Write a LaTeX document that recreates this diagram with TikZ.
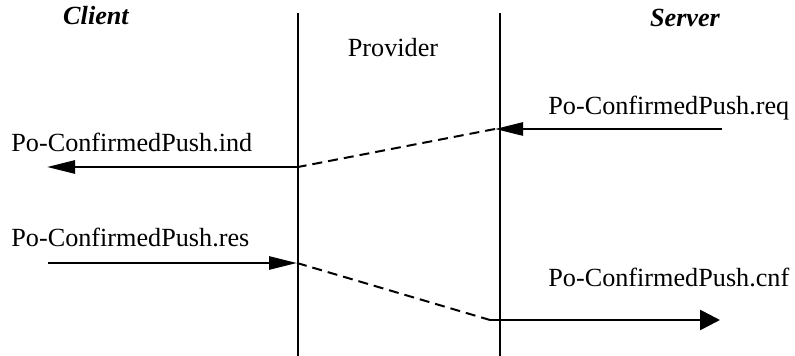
\documentclass[tikz,border=0pt]{standalone}
\usepackage{fontspec}
\setmainfont{Liberation Serif}
\usetikzlibrary{arrows.meta}

\begin{document}
\begin{tikzpicture}[
    x=0.5pt, y=-0.5pt,
    every node/.style={inner sep=0pt, anchor=base west, font=\fontsize{13.1}{15}\selectfont},
    party/.style={anchor=base, font=\fontsize{13.1}{15}\selectfont\bfseries\itshape},
    lifeline/.style={line width=1pt},
    arrow/.style={-{Triangle[length=14pt,width=6.5pt]}, line width=1.3pt},
    relay/.style={dash pattern=on 5pt off 3pt, line width=1pt}
]
\useasboundingbox (0,0) rectangle (795,356);

\node[party] (client) at (96,25) {Client};
\node[party] (server) at (685,27) {Server};
\node[anchor=base] (provider) at (393,57) {Provider};

\coordinate (ctop) at (298,13);
\coordinate (cbot) at (298,356);
\coordinate (stop) at (500,13);
\coordinate (sbot) at (500,356);
\draw[lifeline] (ctop) -- (cbot);
\draw[lifeline] (stop) -- (sbot);

% confirmed push, server to client
\node (req) at (548,115) {Po-ConfirmedPush.req};
\node (ind) at (11,152) {Po-ConfirmedPush.ind};
\coordinate (reqstart) at (722,129);
\coordinate (reqend) at (495,129);
\coordinate (indstart) at (298,167);
\coordinate (indend) at (47,167);
\draw[arrow] (reqstart) -- (reqend);
\draw[relay] (reqend) -- (indstart);
\draw[arrow] (indstart) -- (indend);

% confirmation, client to server
\node (res) at (11,247) {Po-ConfirmedPush.res};
\node (cnf) at (548,287) {Po-ConfirmedPush.cnf};
\coordinate (resstart) at (48,263);
\coordinate (resend) at (297,263);
\coordinate (cnfstart) at (490,320);
\coordinate (cnfend) at (720,320);
\draw[arrow] (resstart) -- (resend);
\draw[relay] (resend) -- (cnfstart);
\draw[arrow, -{Triangle[length=10pt,width=10pt]}] (cnfstart) -- (cnfend);

\end{tikzpicture}
\end{document}
